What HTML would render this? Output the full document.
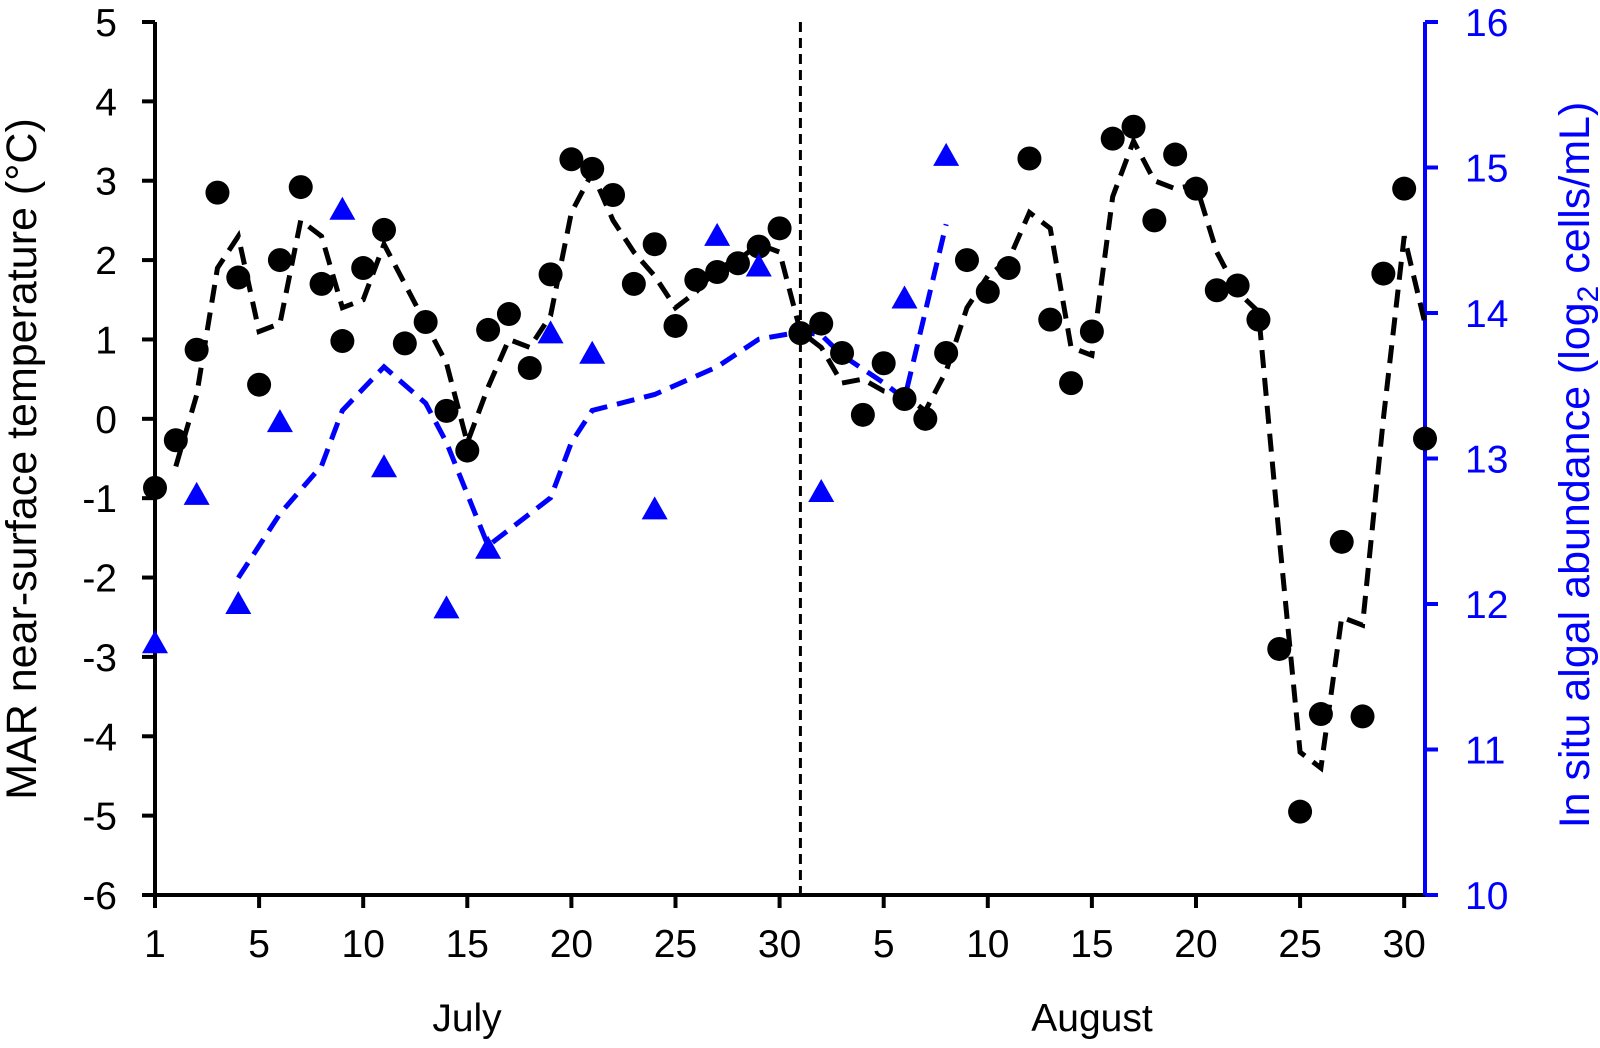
<!DOCTYPE html>
<html><head><meta charset="utf-8"><style>
html,body{margin:0;padding:0;background:#fff;}
svg{display:block;font-family:"Liberation Sans",Arial,sans-serif;}
</style></head><body>
<svg id="chart" width="1600" height="1048" viewBox="0 0 1600 1048"></svg>
<script>
const tempValues=[-0.87,-0.27,0.87,2.85,1.78,0.43,2.0,2.92,1.7,0.98,1.9,2.38,0.95,1.22,0.1,-0.4,1.12,1.32,0.64,1.82,3.27,3.15,2.82,1.7,2.2,1.17,1.75,1.85,1.96,2.17,2.4,1.08,1.2,0.83,0.05,0.7,0.25,0.0,0.83,2.0,1.6,1.9,3.28,1.25,0.45,1.1,3.53,3.68,2.5,3.33,2.9,1.62,1.68,1.25,-2.9,-4.95,-3.72,-1.55,-3.75,1.83,2.9,-0.25];
const tempSmoothDays=[1,2,3,4,5,6,7,8,9,10,11,12,13,14,15,16,17,18,19,20,21,22,23,24,25,26,27,28,29,30,31,32,33,34,35,36,37,38,39,40,41,42,43,44,45,46,47,48,49,50,51,52,53,54,55,56,57,58,59,60,61];
const tempSmooth=[-0.6,0.3,1.9,2.3,1.1,1.2,2.5,2.3,1.4,1.5,2.2,1.7,1.2,0.7,-0.3,0.4,1.0,0.9,1.3,2.6,3.1,2.5,2.1,1.8,1.4,1.6,1.9,2.0,2.2,2.1,1.1,0.9,0.45,0.5,0.35,0.3,0.1,0.6,1.4,1.8,2.0,2.6,2.4,0.9,0.8,2.8,3.5,3.0,2.9,2.95,2.1,1.6,1.35,-1.5,-4.2,-4.4,-2.5,-2.6,0.0,2.3,1.2];
const algaeDays=[0,2,4,6,9,11,14,16,19,21,24,27,29,32,36,38];
const algaeValues=[11.73,12.75,12.0,13.25,14.71,12.94,11.97,12.38,13.86,13.72,12.65,14.53,14.32,12.77,14.1,15.08];
const algaeSmoothDays=[4,6,8,9,11,13,14,16,19,20,21,24,27,29,31,32,33,35,36,38];
const algaeSmooth=[12.18,12.62,12.95,13.33,13.63,13.38,13.11,12.4,12.73,13.11,13.33,13.44,13.63,13.82,13.87,13.85,13.71,13.52,13.41,14.61];
const leftTicks=[5,4,3,2,1,0,-1,-2,-3,-4,-5,-6];
const rightTicks=[16,15,14,13,12,11,10];
const xTickDays=[0,5,10,15,20,25,30,35,40,45,50,55,60];
const xTickLabels=["1","5","10","15","20","25","30","5","10","15","20","25","30"];

const X0=155,X1=1425,Y0=22,Y1=895;
const x=d=>X0+d*(X1-X0)/61;
const yL=v=>Y0+(5-v)*(Y1-Y0)/11;
const yR=v=>Y0+(16-v)*(Y1-Y0)/6;
const svg=document.getElementById('chart');
const NS='http://www.w3.org/2000/svg';
function mk(tag,attrs,parent){const e=document.createElementNS(NS,tag);for(const k in attrs)e.setAttribute(k,attrs[k]);(parent||svg).appendChild(e);return e;}

let e;
e=mk('line',{x1:X0,y1:Y0,x2:X0,y2:Y1,stroke:'#000','stroke-width':4});


e=mk('line',{x1:X0,y1:Y1,x2:X1,y2:Y1,stroke:'#000','stroke-width':4});


e=mk('line',{x1:X1,y1:Y0,x2:X1,y2:Y1,stroke:'#0000ff','stroke-width':4});


e=mk('line',{x1:x(31),y1:Y0,x2:x(31),y2:Y1,stroke:'#000','stroke-width':3,'stroke-dasharray':'10,6'});



leftTicks.forEach(v=>{
  mk('line',{x1:X0-13,y1:yL(v),x2:X0,y2:yL(v),stroke:'#000','stroke-width':4});
  const t=mk('text',{x:117,y:yL(v)+14,'text-anchor':'end','font-size':39});
  t.textContent=v;
  
  
});
rightTicks.forEach(v=>{
  mk('line',{x1:X1,y1:yR(v),x2:X1+13,y2:yR(v),stroke:'#0000ff','stroke-width':4});
  const t=mk('text',{x:1465,y:yR(v)+14,'text-anchor':'start','font-size':39,fill:'#0000ff'});
  t.textContent=v;
  
  
});
xTickDays.forEach((d,i)=>{
  mk('line',{x1:x(d),y1:Y1,x2:x(d),y2:Y1+13,stroke:'#000','stroke-width':4});
  const t=mk('text',{x:x(d),y:957,'text-anchor':'middle','font-size':39});
  t.textContent=xTickLabels[i];
  
  
});
e=mk('text',{x:467,y:1031,'text-anchor':'middle','font-size':39});e.textContent='July';


e=mk('text',{x:1092,y:1031,'text-anchor':'middle','font-size':39});e.textContent='August';


e=mk('text',{x:0,y:0,'text-anchor':'middle','font-size':43,transform:'translate(36,459) rotate(-90)'});
e.textContent='MAR near-surface temperature (°C)';


e=mk('text',{x:0,y:0,'text-anchor':'middle','font-size':43,fill:'#0000ff',transform:'translate(1589,465) rotate(-90)'});
e.innerHTML='In situ algal abundance  (log<tspan font-size="30" dy="9">2</tspan><tspan dy="-9"> cells/mL)</tspan>';



e=mk('polyline',{points:algaeSmoothDays.map((d,i)=>x(d)+','+yR(algaeSmooth[i])).join(' '),fill:'none',stroke:'#0000ff','stroke-width':5,'stroke-dasharray':'18,10'});


e=mk('polyline',{points:tempSmoothDays.map((d,i)=>x(d)+','+yL(tempSmooth[i])).join(' '),fill:'none',stroke:'#000','stroke-width':5,'stroke-dasharray':'18,10'});


tempValues.forEach((v,i)=>{
  const c=mk('circle',{cx:x(i),cy:yL(v),r:12,fill:'#000'});
  
  
});
algaeDays.forEach((d,i)=>{
  const cx=x(d),cy=yR(algaeValues[i]);
  const p=mk('polygon',{points:`${cx},${cy-13} ${cx-13},${cy+10} ${cx+13},${cy+10}`,fill:'#0000ff'});
  
  
});
</script>
</body></html>
